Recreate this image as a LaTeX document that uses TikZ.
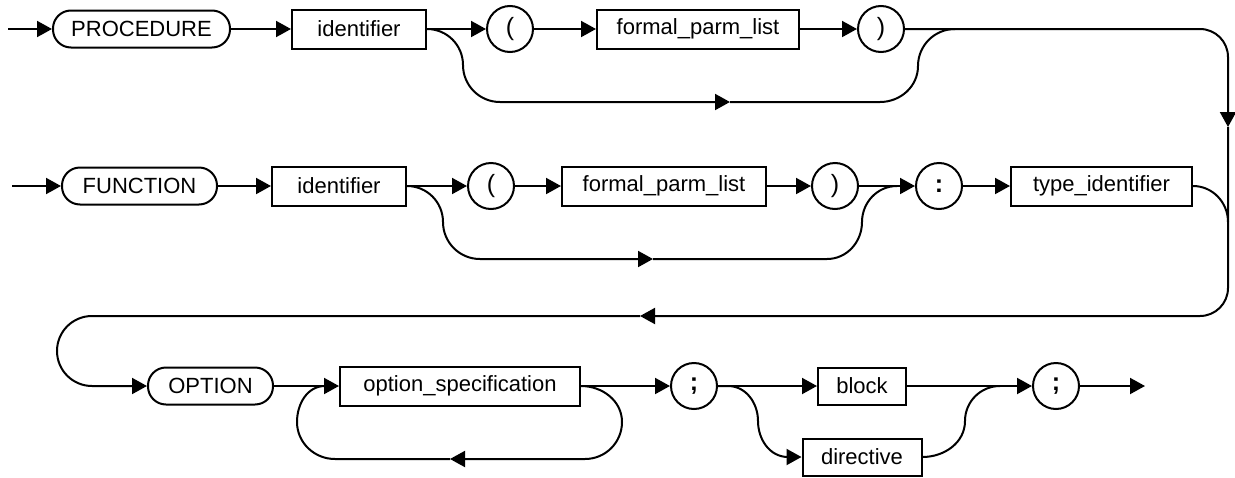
\documentclass[tikz,border=0pt]{standalone}
\usepackage{fontspec}
\setmainfont{Liberation Sans}
\usetikzlibrary{positioning,calc,arrows.meta}

\begin{document}
\begin{tikzpicture}[x=1pt,y=-1pt,
    rail/.style={line width=2pt},
    flow/.style={rail, -{Triangle[length=15pt,width=16pt]}},
    keyw/.style={draw, line width=2pt, rounded corners=18pt, minimum height=37pt, inner sep=0pt, font=\fontsize{22}{24}\selectfont},
    nterm/.style={draw, line width=2pt, minimum height=39pt, inner sep=0pt, font=\fontsize{22}{24}\selectfont},
    tok/.style={draw, circle, line width=2pt, minimum size=46pt, inner sep=0pt, font=\fontsize{25}{26}\selectfont}]
  \useasboundingbox (0,0) rectangle (1235,477);

  % procedure heading
  \coordinate (in1) at (8,29);
  \node[keyw, minimum width=177pt] (proc) at (141.5,29) {PROCEDURE};
  \node[nterm, minimum width=134pt] (id1) at (359,29) {identifier};
  \node[tok] (lp1) at (510,29) {(};
  \node[nterm, minimum width=202pt] (fpl1) at (698,29) {formal\_parm\_list};
  \node[tok] (rp1) at (881,29) {)};

  % function heading
  \coordinate (in2) at (12,186);
  \node[keyw, minimum width=155pt] (func) at (139.5,186) {FUNCTION};
  \node[nterm, minimum width=134pt] (id2) at (339,186) {identifier};
  \node[tok] (lp2) at (491,186) {(};
  \node[nterm, minimum width=204pt] (fpl2) at (664,186) {formal\_parm\_list};
  \node[tok] (rp2) at (835,186) {)};
  \node[tok, font=\fontsize{25}{26}\selectfont\bfseries] (colon) at (939,186) {:};
  \node[nterm, minimum width=181pt] (tid) at (1101.5,186) {type\_identifier};

  % option part
  \node[keyw, minimum width=125pt] (opt) at (210.5,386) {OPTION};
  \node[nterm, minimum width=240pt] (spec) at (460,386) {option\_specification};
  \node[tok, font=\fontsize{25}{26}\selectfont\bfseries] (semi1) at (694,386) {;};
  \node[nterm, minimum width=88pt, minimum height=37pt] (blk) at (862,386) {block};
  \node[nterm, minimum width=119pt, minimum height=37pt] (dir) at (862,457) {directive};
  \node[tok, font=\fontsize{25}{26}\selectfont\bfseries] (semi2) at (1056,386) {;};
  \coordinate (out) at (1145,386);

  \foreach \a/\b in {in1/proc, proc/id1, id1/lp1, lp1/fpl1, fpl1/rp1,
      in2/func, func/id2, id2/lp2, lp2/fpl2, fpl2/rp2, rp2/colon, colon/tid,
      opt/spec, spec/semi1, semi1/blk, blk/semi2, semi2/out}
    \draw[flow] (\a) -- (\b);

  % bypasses of the parameter lists
  \coordinate (skip1) at (730,102);
  \coordinate (skip2) at (653,259);
  \draw[flow] (id1.east) to[out=0,in=90] (463,65) to[out=-90,in=180] (500,102) -- (skip1);
  \draw[rail] (skip1) -- (880,102) to[out=0,in=-90] (918,66) to[out=90,in=180] (955,29);
  \draw[flow] (id2.east) to[out=0,in=90] (443,222) to[out=-90,in=180] (480,259) -- (skip2);
  \draw[rail] (skip2) -- (827,259) to[out=0,in=-90] (862,222) to[out=90,in=180] (897,186);

  % right side and return
  \coordinate (down) at (1228,127);
  \coordinate (back) at (640,316);
  \draw[flow, rounded corners=28pt] (rp1) -- (1228,29) -- (down);
  \draw[rail] (tid.east) to[out=0,in=90] (1228,222);
  \draw[flow, rounded corners=28pt] (down) |- (back);
  \draw[flow, rounded corners=35pt] (back) -- (57,316) -- (57,386) -- (opt);

  % repeated option_specification
  \coordinate (rep) at (450,459);
  \draw[flow] (spec.east) to[out=0,in=90] (622,422) to[out=-90,in=0] (585,459) -- (rep);
  \draw[rail] (rep) -- (335,459) to[out=180,in=-90] (297,422) to[out=90,in=180] (325,386);

  % block or directive
  \draw[flow] (semi1.east) -- (728,386) to[out=0,in=90] (758,421) to[out=-90,in=180] (788,457) -- (dir);
  \draw[rail] (dir.east) to[out=0,in=-90] (965,421) to[out=90,in=180] (1000,386);
\end{tikzpicture}
\end{document}
